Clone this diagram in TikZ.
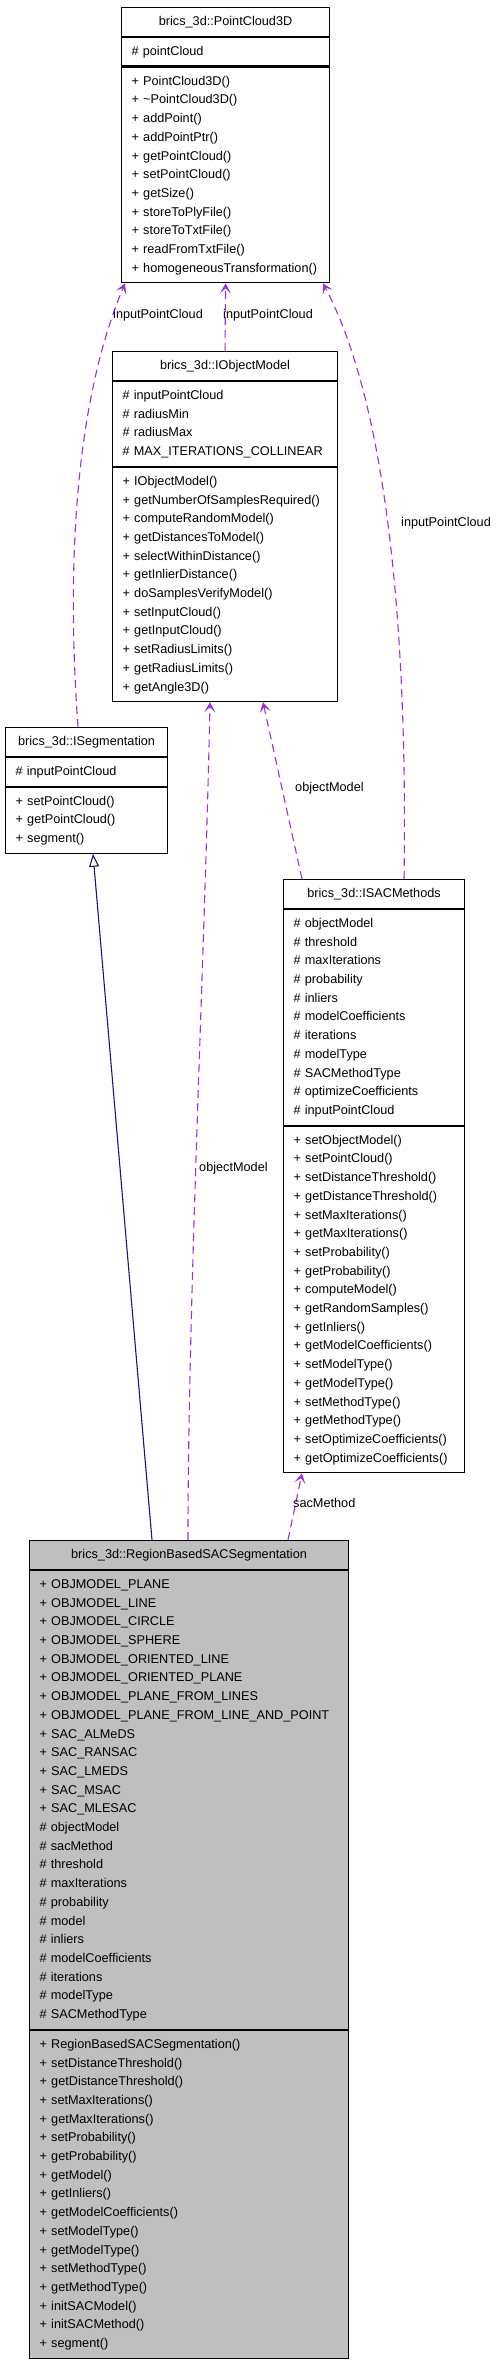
\documentclass[tikz,border=0pt]{standalone}
\usepackage{fontspec}
\setmainfont{Liberation Sans}
\usepackage{tikz}
\usetikzlibrary{positioning, arrows.meta}
\definecolor{usepurple}{RGB}{154,50,205}
\definecolor{inhnavy}{RGB}{25,25,112}
\definecolor{boxgray}{RGB}{191,191,191}
\newcommand{\umlsize}{\fontsize{12.7}{18.7}\selectfont}
\tikzset{
  umltitle/.style={draw=black, line width=1.1pt, fill=white, inner xsep=10pt, inner ysep=5pt,
    align=center, font=\umlsize, execute at begin node=\strut, execute at end node=\strut},
  umlpart/.style={umltitle, align=left},
  usedby/.style={usepurple, line width=1.1pt, dash pattern=on 8pt off 5pt,
    -{Stealth[length=10pt, width=11pt, inset=5pt]}},
  inherit/.style={inhnavy, line width=1.1pt, -{Triangle[open, length=13pt, width=10pt, fill=white]}},
  edgelabel/.style={font=\umlsize, inner sep=0pt, anchor=west},
}

\begin{document}
\begin{tikzpicture}[x=1pt, y=-1pt]
        % sfondo
            \fill[white] (0,0) rectangle (499,2363);
            \useasboundingbox (0,0) rectangle (499,2363);
        % PointCloud3D
            \node[umltitle, text width=188pt, anchor=north west] (pc) at (121,7) {brics\_3d::PointCloud3D};
            \node[umlpart, text width=188pt, below=0pt of pc] (pcAttr) {\# pointCloud};
            \node[umlpart, text width=188pt, below=0pt of pcAttr] (pcOps) {+ PointCloud3D()\\+ \textasciitilde PointCloud3D()\\+ addPoint()\\+ addPointPtr()\\+ getPointCloud()\\+ setPointCloud()\\+ getSize()\\+ storeToPlyFile()\\+ storeToTxtFile()\\+ readFromTxtFile()\\+ homogeneousTransformation()};
        % IObjectModel
            \node[umltitle, text width=205pt, anchor=north west] (iom) at (112,351) {brics\_3d::IObjectModel};
            \node[umlpart, text width=205pt, below=0pt of iom] (iomAttr) {\# inputPointCloud\\\# radiusMin\\\# radiusMax\\\# MAX\_ITERATIONS\_COLLINEAR};
            \node[umlpart, text width=205pt, below=0pt of iomAttr] (iomOps) {+ IObjectModel()\\+ getNumberOfSamplesRequired()\\+ computeRandomModel()\\+ getDistancesToModel()\\+ selectWithinDistance()\\+ getInlierDistance()\\+ doSamplesVerifyModel()\\+ setInputCloud()\\+ getInputCloud()\\+ setRadiusLimits()\\+ getRadiusLimits()\\+ getAngle3D()};
        % ISegmentation
            \node[umltitle, text width=142pt, anchor=north west] (seg) at (5,727) {brics\_3d::ISegmentation};
            \node[umlpart, text width=142pt, below=0pt of seg] (segAttr) {\# inputPointCloud};
            \node[umlpart, text width=142pt, below=0pt of segAttr] (segOps) {+ setPointCloud()\\+ getPointCloud()\\+ segment()};
        % ISACMethods
            \node[umltitle, text width=161pt, anchor=north west] (sac) at (283,879) {brics\_3d::ISACMethods};
            \node[umlpart, text width=161pt, below=0pt of sac] (sacAttr) {\# objectModel\\\# threshold\\\# maxIterations\\\# probability\\\# inliers\\\# modelCoefficients\\\# iterations\\\# modelType\\\# SACMethodType\\\# optimizeCoefficients\\\# inputPointCloud};
            \node[umlpart, text width=161pt, below=0pt of sacAttr] (sacOps) {+ setObjectModel()\\+ setPointCloud()\\+ setDistanceThreshold()\\+ getDistanceThreshold()\\+ setMaxIterations()\\+ getMaxIterations()\\+ setProbability()\\+ getProbability()\\+ computeModel()\\+ getRandomSamples()\\+ getInliers()\\+ getModelCoefficients()\\+ setModelType()\\+ getModelType()\\+ setMethodType()\\+ getMethodType()\\+ setOptimizeCoefficients()\\+ getOptimizeCoefficients()};
        % RegionBasedSACSegmentation
            \node[umltitle, fill=boxgray, text width=299pt, anchor=north west] (rbs) at (29,1540) {brics\_3d::RegionBasedSACSegmentation};
            \node[umlpart, fill=boxgray, text width=299pt, below=0pt of rbs] (rbsAttr) {+ OBJMODEL\_PLANE\\+ OBJMODEL\_LINE\\+ OBJMODEL\_CIRCLE\\+ OBJMODEL\_SPHERE\\+ OBJMODEL\_ORIENTED\_LINE\\+ OBJMODEL\_ORIENTED\_PLANE\\+ OBJMODEL\_PLANE\_FROM\_LINES\\+ OBJMODEL\_PLANE\_FROM\_LINE\_AND\_POINT\\+ SAC\_ALMeDS\\+ SAC\_RANSAC\\+ SAC\_LMEDS\\+ SAC\_MSAC\\+ SAC\_MLESAC\\\# objectModel\\\# sacMethod\\\# threshold\\\# maxIterations\\\# probability\\\# model\\\# inliers\\\# modelCoefficients\\\# iterations\\\# modelType\\\# SACMethodType};
            \node[umlpart, fill=boxgray, text width=299pt, below=0pt of rbsAttr] (rbsOps) {+ RegionBasedSACSegmentation()\\+ setDistanceThreshold()\\+ getDistanceThreshold()\\+ setMaxIterations()\\+ getMaxIterations()\\+ setProbability()\\+ getProbability()\\+ getModel()\\+ getInliers()\\+ getModelCoefficients()\\+ setModelType()\\+ getModelType()\\+ setMethodType()\\+ getMethodType()\\+ initSACModel()\\+ initSACMethod()\\+ segment()};
        % collegamenti
            \draw[usedby] ([xshift=73pt]seg.north west) .. controls (66,560) and (76,400) .. ([xshift=4pt]pcOps.south west);
            \draw[usedby] (iom.north) -- (pcOps.south);
            \draw[usedby] ([xshift=121pt]sac.north west) .. controls (408,620) and (385,400) .. ([xshift=202pt]pcOps.south west);
            \draw[usedby] ([xshift=19pt]sac.north west) -- ([xshift=151pt]iomOps.south west);
            \draw[usedby] ([xshift=159pt]rbs.north west) .. controls (188,1300) and (205,950) .. ([xshift=98pt]iomOps.south west);
            \draw[usedby] ([xshift=259pt]rbs.north west) -- ([xshift=19pt]sacOps.south west);
            \draw[inherit] ([xshift=123pt]rbs.north west) -- ([xshift=88pt]segOps.south west);
        % etichette
            \node[edgelabel] (lblSeg) at (113,315) {inputPointCloud};
            \node[edgelabel] (lblIom) at (223,315) {inputPointCloud};
            \node[edgelabel] (lblSac) at (401,523) {inputPointCloud};
            \node[edgelabel] (lblSacModel) at (295,788) {objectModel};
            \node[edgelabel] (lblRbsModel) at (199,1168) {objectModel};
            \node[edgelabel] (lblRbsSac) at (293,1503) {sacMethod};
        \end{tikzpicture}
\end{document}
